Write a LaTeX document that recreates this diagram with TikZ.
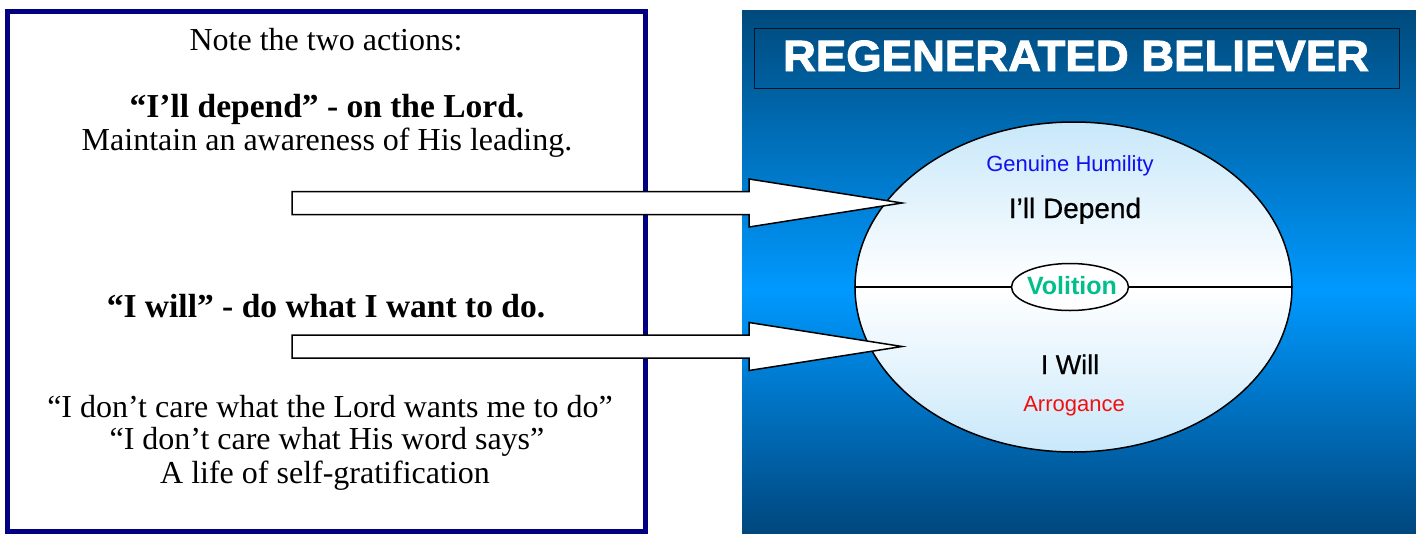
\documentclass[tikz,border=0pt]{standalone}
\usepackage{fontspec}
\setmainfont{Liberation Serif}
\newfontfamily\arialf{Liberation Sans}
\newfontfamily\arialmed[FakeBold=0.6]{Liberation Sans}
\newfontfamily\heavyf[FakeBold=2.2]{Liberation Sans Bold}
\usetikzlibrary{shapes.geometric,calc}
\definecolor{navyb}{HTML}{000080}
\definecolor{paneldark}{HTML}{004A7C}
\definecolor{panelmid}{HTML}{0099FF}
\definecolor{paneldarkb}{HTML}{00477E}
\definecolor{ellblue}{HTML}{C9E8FA}
\definecolor{volgreen}{HTML}{00BF8C}
\definecolor{humblue}{HTML}{1010F0}
\definecolor{arrred}{HTML}{F01010}
\tikzset{
  serifline/.style={anchor=base, inner sep=0pt, font=\fontsize{32}{36}\selectfont},
  seriflinebold/.style={anchor=base, inner sep=0pt, font=\fontsize{33.5}{36}\selectfont\bfseries},
  ellitext/.style={anchor=base, inner sep=0pt},
  blockarrow/.style={draw=black, fill=white, line width=1.5pt, line join=miter},
}
\begin{document}
\begin{tikzpicture}[x=1pt,y=-1pt]
\useasboundingbox (0,0) rectangle (1416,533);
% left box
\draw[navyb, line width=5pt] (7.5,11) rectangle (645,531);
\node[serifline] (t1) at (326,50) {Note the two actions:};
\node[seriflinebold] (t2) at (327,117) {“I’ll depend” - on the Lord.};
\node[serifline] (t3) at (327,150) {Maintain an awareness of His leading.};
\node[seriflinebold] (t4) at (326,317) {“I will” - do what I want to do.};
\node[serifline] (t5) at (330,417) {“I don’t care what the Lord wants me to do”};
\node[serifline] (t6) at (327,449) {“I don’t care what His word says”};
\node[serifline] (t7) at (325,483) {A life of self-gratification};
% blue panel
\shade[top color=paneldark, bottom color=panelmid] (742,10) rectangle (1416,290);
\shade[top color=panelmid, bottom color=paneldarkb] (742,289.5) rectangle (1416,533);
% title box
\draw[draw=black!70!paneldark, line width=1pt] (754,28) rectangle (1399,88);
\node[inner sep=0pt, anchor=base, text=white] (title) at (1076,71)
  {\resizebox{586pt}{30.5pt}{\heavyf\fontsize{42}{44}\selectfont REGENERATED BELIEVER}};
% main ellipse
\node[ellipse, draw=black, line width=1.5pt, minimum width=437pt, minimum height=330pt,
      inner sep=0pt, top color=ellblue, bottom color=ellblue, middle color=white] (main) at (1073.5,287) {};
\node[ellipse, draw=black, line width=1.5pt, fill=white, minimum width=117pt, minimum height=47pt,
      inner sep=0pt] (vol) at (1070,287) {};
\draw[line width=1.2pt] (main.west) -- (vol.west);
\draw[line width=1.2pt] (vol.east) -- (main.east);
\node[ellitext, text=volgreen, font=\arialf\bfseries\fontsize{25}{28}\selectfont] (voltxt) at (1072,294) {Volition};
\node[ellitext, text=humblue, font=\arialf\fontsize{22}{24}\selectfont] (hum) at (1070,171) {Genuine Humility};
\node[ellitext, text=black, font=\arialmed\fontsize{28}{30}\selectfont] (dep) at (1075,218) {I’ll Depend};
\node[ellitext, text=black, font=\arialmed\fontsize{27}{30}\selectfont] (will) at (1070,374) {I Will};
\node[ellitext, text=arrred, font=\arialf\fontsize{22}{24}\selectfont] (arr) at (1074,411.5) {Arrogance};
% block arrows
\coordinate (a1s) at (292,203);
\coordinate (a1t) at (902,203);
\coordinate (a2s) at (292,346.5);
\coordinate (a2t) at (902,346.5);
\draw[blockarrow] ($(a1s)+(0,-11.5)$) -- ++(457,0) -- ++(0,-12.5) -- (a1t) -- ($(a1s)+(457,24)$) -- ++(0,-12.5) -- ($(a1s)+(0,11.5)$) -- cycle;
\draw[blockarrow] ($(a2s)+(0,-11.5)$) -- ++(457,0) -- ++(0,-12.5) -- (a2t) -- ($(a2s)+(457,24)$) -- ++(0,-12.5) -- ($(a2s)+(0,11.5)$) -- cycle;
\end{tikzpicture}
\end{document}
